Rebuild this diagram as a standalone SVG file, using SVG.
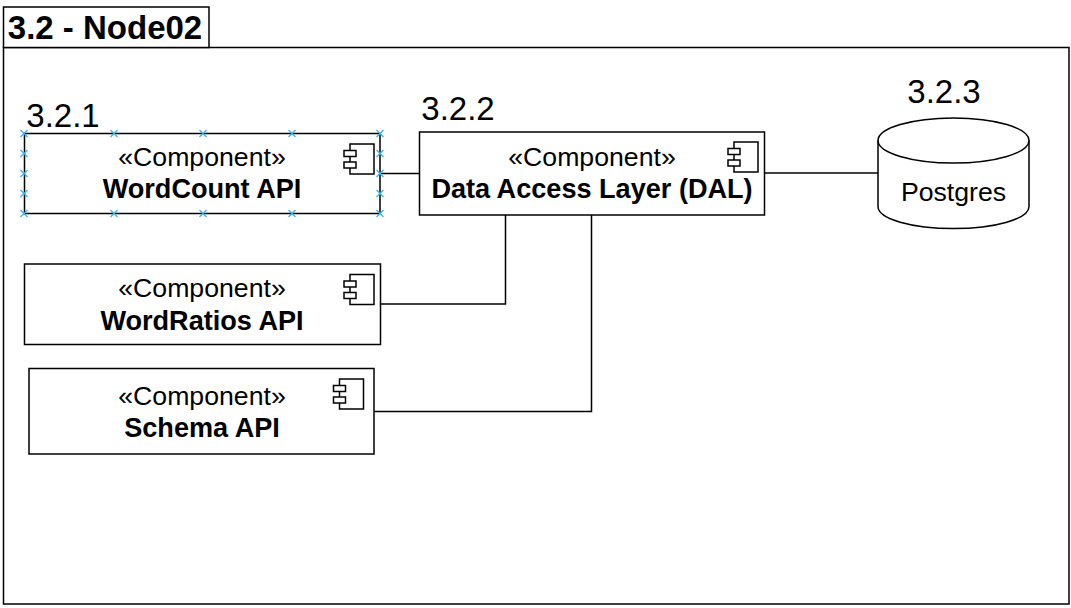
<svg xmlns="http://www.w3.org/2000/svg" width="1071" height="608" viewBox="0 0 1071 608">
<style>
text{font-family:"Liberation Sans",Arial,sans-serif;fill:#000;text-anchor:middle}
.s{font-size:26.67px}
.b{font-size:27.1px;font-weight:bold}
.n{font-size:33px}
.t{font-size:33px;font-weight:bold}
.box{fill:#fff;stroke:#000;stroke-width:1.5}
.ln{fill:none;stroke:#000;stroke-width:1.5}
.sel{fill:none;stroke:#3db4ea;stroke-width:1.4}
</style>
<defs>
<g id="icon">
<path class="box" d="M6 0H30V30H6Z"/>
<rect class="box" x="0" y="6.500" width="12" height="6"/>
<rect class="box" x="0" y="18" width="12" height="6"/>
</g>
<path id="x" class="sel" d="M-3.500 -3.500L3.500 3.500M-3.500 3.500L3.500 -3.500"/>
</defs>
<g id="frame">
<rect class="box" x="3.500" y="47.500" width="1065.500" height="556.500"/>
<rect class="box" x="3.500" y="7" width="205.500" height="40.500"/>
<text class="t" x="105" y="39">3.2 - Node02</text>
</g>
<g id="connectors">
<path class="ln" d="M380 173.500H419.500"/>
<path class="ln" d="M380.500 304H505.500V215"/>
<path class="ln" d="M374 411.500H591.500V215"/>
<path class="ln" d="M764.500 173H878"/>
</g>
<g id="wordcount">
<rect class="box" x="24.500" y="133.500" width="355.500" height="80"/>
<use href="#icon" x="344" y="144"/>
<text class="s" x="202" y="165.500">«Component»</text>
<text class="b" x="202" y="198">WordCount API</text>
<text class="n" x="63" y="127">3.2.1</text>
<g id="selection">
<use href="#x" x="24" y="133.500"/><use href="#x" x="114" y="133.500"/><use href="#x" x="203" y="133.500"/><use href="#x" x="292" y="133.500"/><use href="#x" x="380" y="133.500"/>
<use href="#x" x="24" y="153.500"/><use href="#x" x="380" y="153.500"/>
<use href="#x" x="24" y="173.500"/><use href="#x" x="380" y="173.500"/>
<use href="#x" x="24" y="193.500"/><use href="#x" x="380" y="193.500"/>
<use href="#x" x="24" y="213.500"/><use href="#x" x="114" y="213.500"/><use href="#x" x="203" y="213.500"/><use href="#x" x="292" y="213.500"/><use href="#x" x="380" y="213.500"/>
</g>
</g>
<g id="dal">
<rect class="box" x="419.500" y="132" width="345" height="83"/>
<use href="#icon" x="728" y="142"/>
<text class="s" x="592" y="165.500">«Component»</text>
<text class="b" x="592" y="198">Data Access Layer (DAL)</text>
<text class="n" x="458" y="120">3.2.2</text>
</g>
<g id="wordratios">
<rect class="box" x="24.500" y="264" width="356" height="80.500"/>
<use href="#icon" x="344" y="274.500"/>
<text class="s" x="202" y="296.500">«Component»</text>
<text class="b" x="202" y="329.500">WordRatios API</text>
</g>
<g id="schema">
<rect class="box" x="29" y="368.500" width="345" height="85.500"/>
<use href="#icon" x="333.500" y="379"/>
<text class="s" x="202" y="404.500">«Component»</text>
<text class="b" x="202" y="437">Schema API</text>
</g>
<g id="postgres">
<path class="box" d="M878 140.500C878 128 912 118 953.500 118C995 118 1029 128 1029 140.500V206.500C1029 219 995 228.500 953.500 228.500C912 228.500 878 219 878 206.500Z"/>
<path class="ln" d="M878 140.500C878 153 912 163 953.500 163C995 163 1029 153 1029 140.500"/>
<text class="s" x="953.500" y="201">Postgres</text>
<text class="n" x="944" y="103">3.2.3</text>
</g>
</svg>
